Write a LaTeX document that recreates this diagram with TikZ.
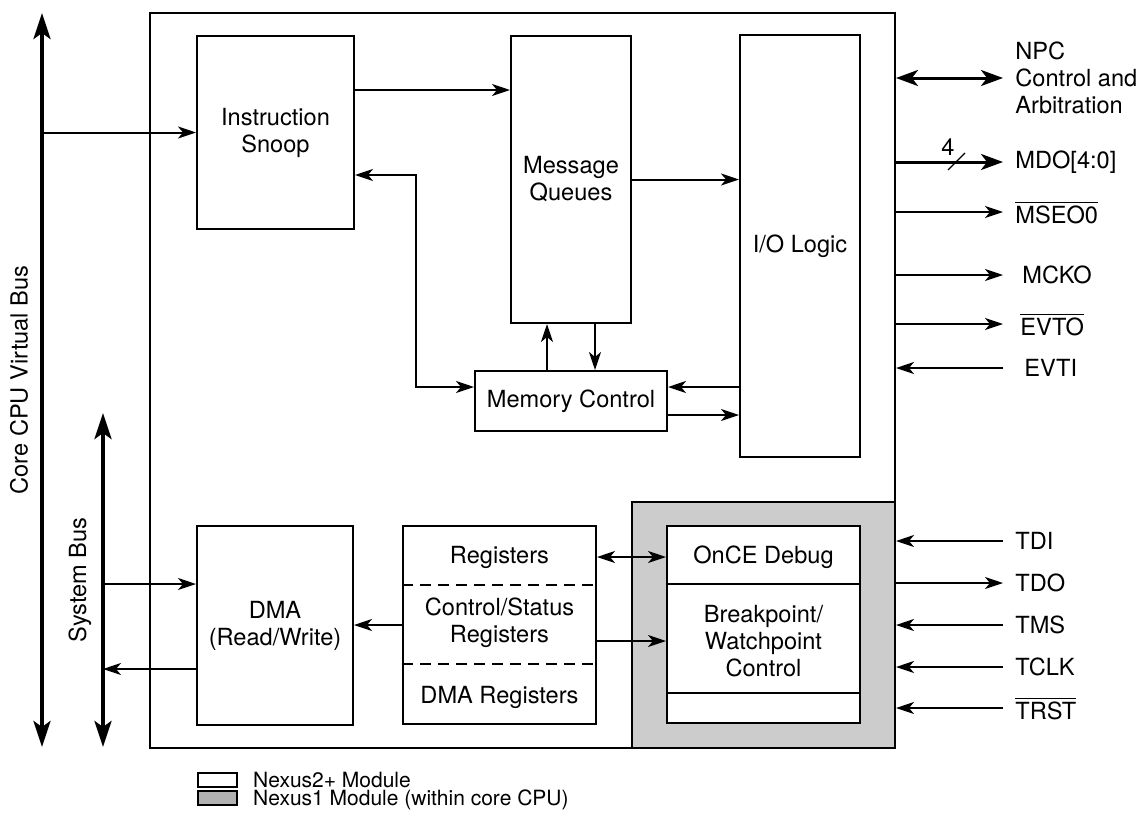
\documentclass[tikz,border=0pt]{standalone}
\usepackage{amsmath}
\usepackage{fontspec}
\setmainfont{TeX Gyre Heros}
\usetikzlibrary{arrows.meta, positioning, calc}
\tikzset{
  block/.style={
    rectangle,
    draw=black,
    fill=white,
    line width=1pt,
    inner sep=0pt,
    align=center
  },
  sig/.style={
    line width=1pt,
    ->
  },
  wide/.style={
    line width=1.5pt,
    >={Stealth[length=11pt,width=8pt,inset=3pt]}
  },
  bus/.style={
    line width=2pt,
    {Stealth[length=13pt,width=8.5pt,inset=3pt]}-{Stealth[length=13pt,width=8.5pt,inset=3pt]}
  },
  pinlbl/.style={
    anchor=west,
    inner xsep=6pt,
    inner ysep=0pt,
    align=left
  },
  divider/.style={
    line width=1pt,
    dash pattern=on 5.5pt off 3.5pt
  },
  legtext/.style={
    inner sep=0pt,
    font=\fontsize{10.5}{11}\selectfont
  }
}

\begin{document}
\begin{tikzpicture}[x=0.5pt, y=-0.5pt, font=\fontsize{11.8}{13.5}\selectfont,
  >={Stealth[length=9pt,width=6pt,inset=2.5pt]}]
  \useasboundingbox (0,0) rectangle (1141,825);

  % --- CHIP OUTLINE ---
  \node (chip) [block, minimum width=372.5pt, minimum height=367.5pt] at (522.5,380.5) {};
  \node (nx1) [block, fill=gray!40, minimum width=131.5pt, minimum height=123pt] at (763.5,625) {};

  % --- NEXUS2+ BLOCKS ---
  \node (snoop) [block, minimum width=78.5pt, minimum height=96.5pt] at (275.5,132.5) {Instruction\\Snoop};
  \node (mq) [block, minimum width=60pt, minimum height=143.5pt] at (571,179.5) {Message\\Queues};
  \node (io) [block, minimum width=60pt, minimum height=211pt] at (800,246) {I/O Logic};
  \node (memctl) [block, minimum width=96pt, minimum height=30pt] at (571,401) {Memory Control};
  \node (dma) [block, minimum width=78pt, minimum height=99.5pt] at (275,625.5) {DMA\\(Read/Write)};

  % Registers
  \node (regs) [block, minimum width=96.5pt, minimum height=99pt] at (499.5,625) {};
  \draw[divider] (regs.west |- 0,585) -- (regs.east |- 0,585);
  \draw[divider] (regs.west |- 0,664) -- (regs.east |- 0,664);
  \node (regtop) at (499.5,557) {Registers};
  \node (regmid) [align=center] at (499.5,623) {Control/Status\\Registers};
  \node (regdma) at (499.5,697) {DMA Registers};

  % --- NEXUS1 (OnCE) ---
  \node (once) [block, minimum width=96.5pt, minimum height=98.5pt] at (763.5,624.5) {};
  \draw[line width=1pt] (once.west |- 0,584) -- (once.east |- 0,584);
  \draw[line width=1pt] (once.west |- 0,693) -- (once.east |- 0,693);
  \node (oncedbg) at (763.5,557) {OnCE Debug};
  \node (brkpt) [align=center] at (763.5,641) {Breakpoint/\\Watchpoint\\Control};

  % --- BUSES ---
  \coordinate (cpu top) at (42,13);
  \coordinate (cpu bot) at (42,747);
  \coordinate (sys top) at (103,413);
  \coordinate (sys bot) at (103,747);
  \draw[bus] (cpu bot) -- (cpu top);
  \draw[bus] (sys bot) -- (sys top);
  \node (cpulbl) [rotate=90] at (19,380) {Core CPU Virtual Bus};
  \node (syslbl) [rotate=90] at (80,580) {System Bus};

  \draw[sig] (cpu top |- snoop.west) -- (snoop.west);
  \draw[sig] ($(sys top |- dma.west)+(0,-41.5)$) -- ($(dma.west)+(0,-41.5)$);
  \draw[sig] ($(dma.west)+(0,43.5)$) -- ($(sys top |- dma.west)+(0,43.5)$);

  % --- INTERNAL CONNECTIONS ---
  \draw[sig] ($(snoop.east)+(0,-42.5)$) coordinate (s1) -- (s1 -| mq.west);
  \draw[sig] (mq.east) -- (mq.east -| io.west);
  \draw[sig, <->] ($(snoop.east)+(0,42.5)$) -- ++(61,0) |- ($(memctl.west)+(0,-14)$);
  \draw[sig] ($(memctl.north)+(-24,0)$) -- ($(mq.south)+(-24,0)$);
  \draw[sig] ($(mq.south)+(24,0)$) -- ($(memctl.north)+(24,0)$);
  \draw[sig] ($(io.west |- memctl.east)+(0,-14)$) -- ($(memctl.east)+(0,-14)$);
  \draw[sig] ($(memctl.east)+(0,14)$) -- ($(io.west |- memctl.east)+(0,14)$);
  \draw[sig] (regs.west) -- (regs.west -| dma.east);
  \draw[sig, <->] (regs.east |- regtop) -- (once.west |- regtop);
  \draw[sig] (regs.east |- brkpt) -- (once.west |- brkpt);

  % --- PINS ---
  \node (npc) [pinlbl] at (1003,78) {NPC\\Control and\\Arbitration};
  \node (mdo) [pinlbl] at (1003,162) {MDO[4:0]};
  \node (mseo) [pinlbl] at (1003,212) {$\overline{\mbox{MSEO0}}$};
  \node (mcko) [pinlbl, inner xsep=9.5pt] at (1003,275) {MCKO};
  \node (evto) [pinlbl, inner xsep=8.5pt] at (1003,324) {$\overline{\mbox{EVTO}}$};
  \node (evti) [pinlbl, inner xsep=10.5pt] at (1003,368) {EVTI};
  \node (tdi) [pinlbl] at (1003,541) {TDI};
  \node (tdo) [pinlbl] at (1003,583) {TDO};
  \node (tms) [pinlbl] at (1003,625) {TMS};
  \node (tclk) [pinlbl] at (1003,667) {TCLK};
  \node (trst) [pinlbl] at (1003,708) {$\overline{\mbox{TRST}}$};

  \draw[wide, <->] (chip.east |- npc.west) -- (npc.west);
  \draw[wide, ->] (chip.east |- mdo.west) -- (mdo.west);
  \draw[line width=0.6pt] ($(mdo.west)+(-55,8)$) -- ++(17,-17);
  \node (mdowidth) at (948,147) {4};
  \foreach \p in {mseo, mcko, evto, tdo}
    \draw[sig] (chip.east |- \p.west) -- (\p.west);
  \foreach \p in {evti, tdi, tms, tclk, trst}
    \draw[sig] (\p.west) -- (chip.east |- \p.west);

  % --- LEGEND ---
  \node (leg2) [block, line width=0.8pt, minimum width=19.5pt, minimum height=7pt] at (217.5,780) {};
  \node (leg1) [block, line width=0.8pt, fill=gray!60, minimum width=19.5pt, minimum height=7pt] at (217.5,798) {};
  \node (leg2txt) [legtext, right=7.5pt of leg2.south east, anchor=base west] {Nexus2+ Module};
  \node (leg1txt) [legtext, right=7.5pt of leg1.south east, anchor=base west] {Nexus1 Module (within core CPU)};

\end{tikzpicture}
\end{document}
